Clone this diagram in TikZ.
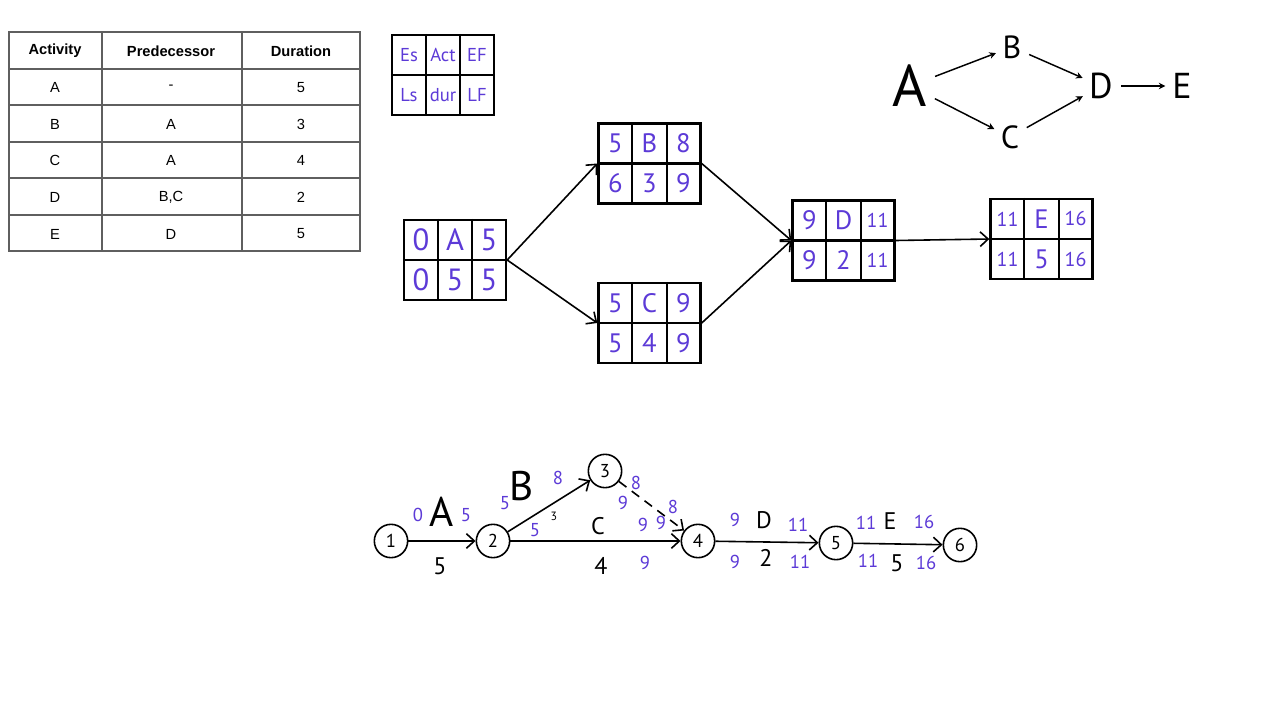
\documentclass[tikz,border=0pt]{standalone}
\usepackage{fontspec}
\setmainfont{Liberation Sans}
\newfontfamily\hand{PT Sans}
\usetikzlibrary{arrows.meta,calc,positioning}
\definecolor{ink}{RGB}{92,58,215}
\definecolor{tablegray}{RGB}{95,95,95}

\tikzset{
  tablerule/.style={draw=tablegray,line width=1.1pt},
  thead/.style={font=\bfseries\fontsize{11}{11}\selectfont},
  tcell/.style={font=\fontsize{11}{11}\selectfont},
  actframe/.style={draw,line width=1.8pt,minimum width=76.5pt,minimum height=60pt,inner sep=0pt},
  boxline/.style={line width=1.6pt},
  cell/.style={font=\hand\fontsize{20}{20}\selectfont,text=ink},
  aonarrow/.style={line width=1.2pt,-{Straight Barb[length=6pt,width=11pt,line width=1.2pt]}},
  event/.style={circle,draw,line width=1.2pt,minimum size=25pt,inner sep=0pt,font=\hand\fontsize{14}{14}\selectfont},
  evarrow/.style={line width=1.2pt,-{Straight Barb[length=6pt,width=11pt,line width=1.2pt]}},
  evnum/.style={font=\hand\fontsize{14}{14}\selectfont,text=ink,inner sep=1pt},
  evact/.style={font=\hand\fontsize{31}{31}\selectfont,inner sep=1pt},
  evdur/.style={font=\hand\fontsize{18}{18}\selectfont,inner sep=1pt},
  sketch/.style={font=\hand\fontsize{24}{24}\selectfont,inner sep=2pt},
  sketcharrow/.style={line width=1.1pt,-{Stealth[length=5pt,width=5pt]},shorten <=4pt,shorten >=3pt},
}

% smaller two-digit figures inside a box
\newcommand{\twodig}[1]{{\fontsize{15}{15}\selectfont #1}}

% one activity-on-node box: name, centre, ES, activity, EF, LS, duration, LF
\newcommand{\actbox}[8]{%
  \node[actframe] (#1) at #2 {};
  \draw[boxline] (#1.west) -- (#1.east);
  \draw[boxline] ($(#1.north west)!1/3!(#1.north east)$) -- ($(#1.south west)!1/3!(#1.south east)$);
  \draw[boxline] ($(#1.north west)!2/3!(#1.north east)$) -- ($(#1.south west)!2/3!(#1.south east)$);
  \node[cell] (#1es) at ($(#1.center)+(-34,-20)$) {#3};
  \node[cell] (#1act) at ($(#1.center)+(0,-20)$) {#4};
  \node[cell] (#1ef) at ($(#1.center)+(34,-20)$) {#5};
  \node[cell] (#1ls) at ($(#1.center)+(-34,20)$) {#6};
  \node[cell] (#1dur) at ($(#1.center)+(0,20)$) {#7};
  \node[cell] (#1lf) at ($(#1.center)+(34,20)$) {#8};
}

\begin{document}
\begin{tikzpicture}[x=0.75pt,y=-0.75pt]
  \fill[white] (0,0) rectangle (1280,720);
  \useasboundingbox (0,0) rectangle (1280,720);

  % table of activities
  \draw[tablerule] (9,32) rectangle (360,251);
  \foreach \x in {102,242}
    \draw[tablerule] (\x,32) -- (\x,251);
  \foreach \y in {69,105,142,178,215}
    \draw[tablerule] (9,\y) -- (360,\y);
  \node[thead] (hact) at (55,51) {Activity};
  \node[thead] (hpre) at (171,51) {Predecessor};
  \node[thead] (hdur) at (301,51) {Duration};
  \foreach \a/\p/\d [count=\i] in {A/-/5,B/A/3,C/A/4,D/{B,C}/2,E/D/5} {
    \node[tcell] (act\i) at (55,{51+36.6*\i}) {\a};
    \node[tcell] (pre\i) at (171,{51+36.6*\i}) {\p};
    \node[tcell] (dur\i) at (301,{51+36.6*\i}) {\d};
  }

  % key
  \begin{scope}[cell/.style={font=\hand\fontsize{14}{14}\selectfont,text=ink}]
    \actbox{key}{(443,75)}{Es}{Act}{EF}{Ls}{dur}{LF}
  \end{scope}

  % activity on node
  \begin{scope}[cell/.append style={font=\hand\fontsize{23}{23}\selectfont}]
    \actbox{A}{(455,260)}{0}{A}{5}{0}{5}{5}
  \end{scope}
  \actbox{B}{(649.5,163.5)}{5}{B}{8}{6}{3}{9}
  \actbox{C}{(649.5,323)}{5}{C}{9}{5}{4}{9}
  \actbox{D}{(843.5,240.5)}{9}{D}{\twodig{11}}{9}{2}{\twodig{11}}
  \actbox{E}{(1041.5,239)}{\twodig{11}}{E}{\twodig{16}}{\twodig{11}}{5}{\twodig{16}}
  \draw[aonarrow] (A.east) -- (B.west);
  \draw[aonarrow] (A.east) -- (C.west);
  \draw[aonarrow] (B.east) -- (D.west);
  \draw[aonarrow] (C.east) -- (D.west);
  \draw[aonarrow] (D.east) -- (E.west);

  % sketch of precedences
  \node[sketch,font=\hand\fontsize{44}{44}\selectfont] (sA) at (910,86) {A};
  \node[sketch] (sB) at (1012,47) {B};
  \node[sketch] (sC) at (1010,137) {C};
  \node[sketch,font=\hand\fontsize{27}{27}\selectfont] (sD) at (1101,86) {D};
  \node[sketch,font=\hand\fontsize{27}{27}\selectfont] (sE) at (1182,86) {E};
  \draw[sketcharrow] (sA) -- (sB);
  \draw[sketcharrow] (sA) -- (sC);
  \draw[sketcharrow] (sB) -- (sD);
  \draw[sketcharrow] (sC) -- (sD);
  \draw[sketcharrow] (sD) -- (sE);

  % activity on arrow
  \node[event] (e1) at (391,541) {1};
  \node[event] (e2) at (493,541) {2};
  \node[event] (e3) at (605,471) {3};
  \node[event] (e4) at (698,541) {4};
  \node[event] (e5) at (836,543) {5};
  \node[event] (e6) at (960,545) {6};
  \draw[evarrow] (e1) -- (e2);
  \draw[evarrow] (e2) -- (e3);
  \draw[evarrow] (e2) -- (e4);
  \draw[evarrow,dashed,dash pattern=on 7pt off 5pt] (e3) -- (e4);
  \draw[evarrow] (e4) -- (e5);
  \draw[evarrow] (e5) -- (e6);

  \node[evnum] (a0) at (418,515) {0};
  \node[evact] (aA) at (442,512) {A};
  \node[evnum] (a5) at (466,515) {5};
  \node[evdur] (ad) at (440,566) {5};

  \node[evnum] (b5) at (505,503) {5};
  \node[evact] (bB) at (522,486) {B};
  \node[evnum] (b8) at (558,478) {8};
  \node[font=\hand\fontsize{9}{9}\selectfont,inner sep=1pt] (bd) at (554,516) {3};

  \node[evnum] (c5) at (535,530) {5};
  \node[evdur] (cC) at (598,526) {C};
  \node[evnum] (c9) at (643,525) {9};
  \node[evdur] (cd) at (601,566) {4};
  \node[evnum] (c9l) at (645,563) {9};

  \node[evnum] (x8) at (636,483) {8};
  \node[evnum] (x9) at (623,503) {9};
  \node[evnum] (x8l) at (673,507) {8};
  \node[evnum] (x9l) at (661,523) {9};

  \node[evnum] (d9) at (735,520) {9};
  \node[evdur] (dD) at (764,520) {D};
  \node[evnum] (d11) at (798,525) {11};
  \node[evnum] (d9l) at (735,562) {9};
  \node[evdur] (dd) at (766,558) {2};
  \node[evnum] (d11l) at (800,562) {11};

  \node[evnum] (f11) at (866,523) {11};
  \node[evdur] (fE) at (890,521) {E};
  \node[evnum] (f16) at (924,522) {16};
  \node[evnum] (f11l) at (868,561) {11};
  \node[evdur] (fd) at (897,563) {5};
  \node[evnum] (f16l) at (926,563) {16};
\end{tikzpicture}
\end{document}
